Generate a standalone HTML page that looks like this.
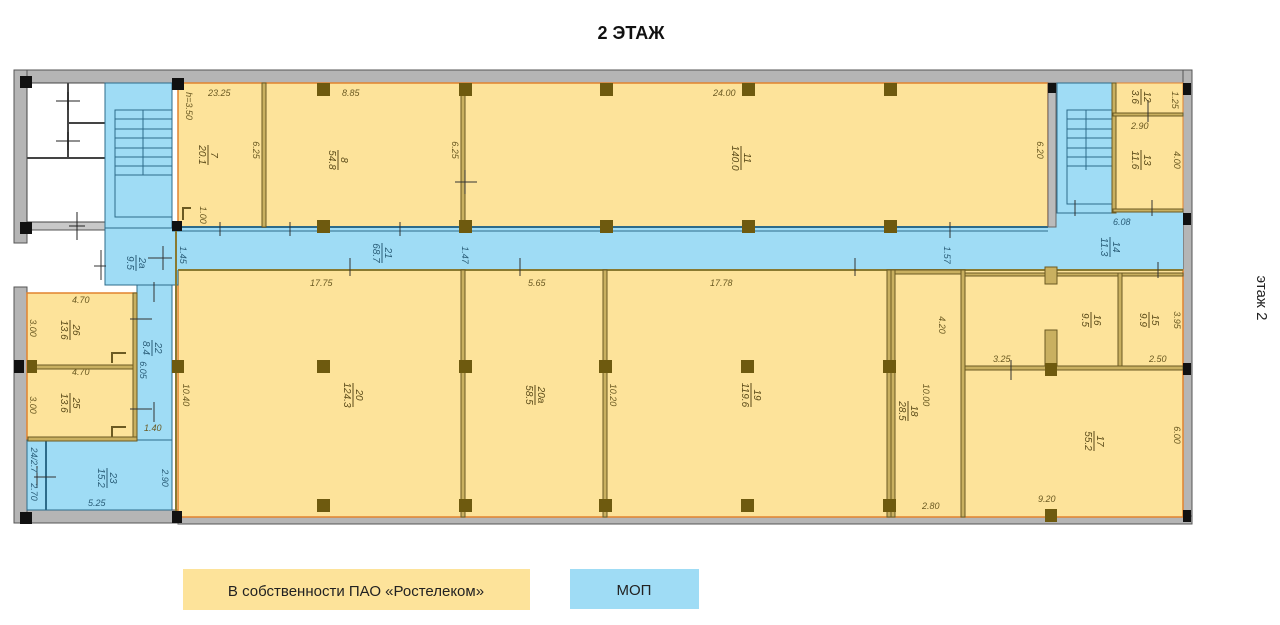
<!DOCTYPE html>
<html><head><meta charset="utf-8"><style>
html,body{margin:0;padding:0;background:#fff;width:1280px;height:625px;overflow:hidden}
svg{display:block}
text{font-family:"Liberation Sans",sans-serif}
.t{font-size:9px;fill:#6b5a22;font-style:italic}
.tb{font-size:9px;fill:#2a5d78;font-style:italic}
</style></head><body>
<svg width="1280" height="625" viewBox="0 0 1280 625" xmlns="http://www.w3.org/2000/svg">
<text x="631" y="39" text-anchor="middle" font-size="18" font-weight="bold" fill="#111">2 ЭТАЖ</text>
<text transform="translate(1257,298) rotate(90)" text-anchor="middle" font-size="15" fill="#222">этаж 2</text>

<rect x="14" y="70" width="1178" height="13" fill="#b5b5b5" stroke="#555" stroke-width="1"/>
<rect x="14" y="70" width="13" height="173" fill="#b5b5b5" stroke="#555"/>
<rect x="14" y="287" width="13" height="236" fill="#b5b5b5" stroke="#555"/>
<rect x="1183" y="70" width="9" height="454" fill="#b5b5b5" stroke="#555"/>
<rect x="27" y="510" width="151" height="13" fill="#b5b5b5" stroke="#555"/>
<rect x="178" y="516" width="1014" height="8" fill="#b5b5b5" stroke="#555"/>
<rect x="27" y="222" width="78" height="8" fill="#c8c8c8" stroke="#555"/>

<rect x="27" y="83" width="78" height="139" fill="#fff" stroke="#444"/>
<line x1="27" y1="158" x2="105" y2="158" stroke="#444" stroke-width="2"/>
<line x1="68" y1="83" x2="68" y2="158" stroke="#444" stroke-width="2"/>
<line x1="68" y1="123" x2="105" y2="123" stroke="#444" stroke-width="2"/>
<path d="M56 101h24M68 92v18M56 141h24M68 132v18M77 212v28M69 226h16" stroke="#222" fill="none"/>

<rect x="178" y="83" width="870" height="144" fill="#fde39a" stroke="#e2832e" stroke-width="1.5"/>
<rect x="178" y="270" width="1005" height="247" fill="#fde39a" stroke="#e2832e" stroke-width="1.5"/>
<rect x="1113" y="83" width="70" height="129" fill="#fde39a" stroke="#e2832e"/>
<rect x="27" y="293" width="110" height="147" fill="#fde39a" stroke="#e2832e" stroke-width="1.5"/>

<rect x="105" y="83" width="67" height="145" fill="#9fdcf5" stroke="#2d6b8a"/>
<rect x="105" y="228" width="73" height="57" fill="#9fdcf5" stroke="#2d6b8a"/>
<rect x="172" y="227" width="1011" height="43" fill="#9fdcf5"/>
<rect x="1048" y="212" width="135" height="58" fill="#9fdcf5"/>
<rect x="1057" y="83" width="55" height="130" fill="#9fdcf5" stroke="#2d6b8a"/>
<rect x="137" y="285" width="35" height="155" fill="#9fdcf5" stroke="#2d6b8a"/>
<rect x="27" y="440" width="145" height="70" fill="#9fdcf5" stroke="#2d6b8a"/>
<line x1="46" y1="440" x2="46" y2="510" stroke="#2d6b8a" stroke-width="2"/>
<line x1="172" y1="227" x2="1048" y2="227" stroke="#2d6b8a" stroke-width="2"/>
<line x1="172" y1="231" x2="1048" y2="231" stroke="#2d6b8a" stroke-width="1"/>
<line x1="178" y1="270" x2="1183" y2="270" stroke="#8a7a30" stroke-width="2"/>
<line x1="176" y1="227" x2="176" y2="517" stroke="#8a7a30" stroke-width="2"/>

<g stroke="#2d6b8a" fill="none">
<rect x="115" y="110" width="57" height="107"/>
<line x1="143" y1="110" x2="143" y2="175"/>
<path d="M115 119h57M115 129h57M115 138h57M115 148h57M115 157h57M115 166h57M115 175h57"/>
<rect x="1067" y="110" width="45" height="94"/>
<line x1="1086" y1="110" x2="1086" y2="170"/>
<path d="M1067 119h45M1067 129h45M1067 138h45M1067 148h45M1067 157h45M1067 166h45"/>
</g>

<g fill="#c9b060" stroke="#6b5a22" stroke-width="1">
<rect x="262" y="83" width="4" height="144"/>
<rect x="461" y="95" width="4" height="132"/>
<rect x="1048" y="83" width="8" height="144" fill="#bbb" stroke="#666"/>
<rect x="1112" y="83" width="4" height="130"/>
<rect x="1113" y="113" width="70" height="3"/>
<rect x="1113" y="209" width="70" height="3"/>
<rect x="461" y="270" width="4" height="247"/>
<rect x="603" y="270" width="4" height="247"/>
<rect x="887" y="270" width="4" height="247"/>
<rect x="891" y="270" width="74" height="4"/>
<rect x="891" y="270" width="4" height="247"/>
<rect x="961" y="270" width="4" height="247"/>
<rect x="965" y="273" width="218" height="3"/>
<rect x="1118" y="273" width="4" height="95"/>
<rect x="965" y="366" width="218" height="4"/>
<rect x="1045" y="330" width="12" height="36"/>
<rect x="1045" y="267" width="12" height="17"/>
<rect x="28" y="365" width="109" height="4"/>
<rect x="133" y="293" width="4" height="147"/>
<rect x="28" y="437" width="109" height="4"/>
</g>
<path d="M112 363v-10h14M112 437v-10h14" stroke="#6b5a22" stroke-width="2" fill="none"/>
<path d="M183 220v-12h8" stroke="#6b5a22" stroke-width="2" fill="none"/>

<g fill="#6e5a0f">
<rect x="317" y="83" width="13" height="13"/><rect x="459" y="83" width="13" height="13"/><rect x="600" y="83" width="13" height="13"/><rect x="742" y="83" width="13" height="13"/><rect x="884" y="83" width="13" height="13"/>
<rect x="317" y="220" width="13" height="13"/><rect x="459" y="220" width="13" height="13"/><rect x="600" y="220" width="13" height="13"/><rect x="742" y="220" width="13" height="13"/><rect x="884" y="220" width="13" height="13"/>
<rect x="317" y="360" width="13" height="13"/><rect x="459" y="360" width="13" height="13"/><rect x="599" y="360" width="13" height="13"/><rect x="741" y="360" width="13" height="13"/><rect x="883" y="360" width="13" height="13"/>
<rect x="317" y="499" width="13" height="13"/><rect x="459" y="499" width="13" height="13"/><rect x="599" y="499" width="13" height="13"/><rect x="741" y="499" width="13" height="13"/><rect x="883" y="499" width="13" height="13"/>
<rect x="1045" y="363" width="12" height="13"/><rect x="1045" y="509" width="12" height="13"/>
<rect x="172" y="360" width="12" height="13"/><rect x="27" y="360" width="10" height="13"/>
</g>
<g fill="#111">
<rect x="20" y="76" width="12" height="12"/><rect x="172" y="78" width="12" height="12"/>
<rect x="20" y="222" width="12" height="12"/><rect x="172" y="221" width="10" height="10"/>
<rect x="20" y="512" width="12" height="12"/><rect x="172" y="511" width="10" height="12"/>
<rect x="1048" y="83" width="8" height="10"/><rect x="1183" y="83" width="8" height="12"/>
<rect x="1183" y="213" width="8" height="12"/><rect x="1183" y="363" width="8" height="12"/><rect x="1183" y="510" width="8" height="12"/>
<rect x="14" y="360" width="10" height="13"/>
</g>

<path d="M220 222v14M290 222v14M400 222v14M465 170v24M455 182h22M1075 200v16M1152 200v16M1148 100v22M350 258v18M520 258v18M855 258v18M950 222v16M1158 262v16M1011 360v20M154 282v20M154 402v20M130 319h22M130 409h22M37 466v22M34 477h22M101 250v30M94 266h12M163 246v24M172 258h-24" stroke="#333" fill="none"/>

<g class="t">
<text x="208" y="96">23.25</text><text x="342" y="96">8.85</text><text x="713" y="96">24.00</text>
<text x="310" y="286">17.75</text><text x="528" y="286">5.65</text><text x="710" y="286">17.78</text>
<text x="72" y="303">4.70</text><text x="72" y="375">4.70</text>
<text x="1149" y="362">2.50</text><text x="922" y="509">2.80</text><text x="1038" y="502">9.20</text>
<text x="1131" y="129">2.90</text><text x="993" y="362">3.25</text>
<text x="144" y="431">1.40</text><text x="88" y="506" class="tb">5.25</text><text x="1113" y="225" class="tb">6.08</text>
</g>
<g class="t" text-anchor="middle">
<text transform="translate(186,106) rotate(90)">h=3.50</text>
<text transform="translate(253,150) rotate(90)">6.25</text>
<text transform="translate(452,150) rotate(90)">6.25</text>
<text transform="translate(1037,150) rotate(90)">6.20</text>
<text transform="translate(1174,160) rotate(90)">4.00</text>
<text transform="translate(1174,320) rotate(90)">3.95</text>
<text transform="translate(1174,435) rotate(90)">6.00</text>
<text transform="translate(939,325) rotate(90)">4.20</text>
<text transform="translate(923,395) rotate(90)">10.00</text>
<text transform="translate(610,395) rotate(90)">10.20</text>
<text transform="translate(183,395) rotate(90)">10.40</text>
<text transform="translate(30,328) rotate(90)">3.00</text>
<text transform="translate(30,405) rotate(90)">3.00</text>
<text transform="translate(200,215) rotate(90)">1.00</text>
<text transform="translate(1172,100) rotate(90)">1.25</text>
</g>
<g class="tb" text-anchor="middle">
<text transform="translate(180,255) rotate(90)">1.45</text>
<text transform="translate(462,255) rotate(90)">1.47</text>
<text transform="translate(944,255) rotate(90)">1.57</text>
<text transform="translate(140,370) rotate(90)">6.05</text>
<text transform="translate(162,478) rotate(90)">2.90</text>
<text transform="translate(31,460) rotate(90)">24/2.7</text>
<text transform="translate(31,492) rotate(90)">2.70</text>
</g>

<g font-size="10" fill="#5a4a18" font-style="italic" text-anchor="middle">
<g transform="translate(208,155) rotate(90)"><text y="-3">7</text><text y="9">20.1</text><line x1="-10" y1="0" x2="10" y2="0" stroke="#5a4a18"/></g>
<g transform="translate(338,160) rotate(90)"><text y="-3">8</text><text y="9">54.8</text><line x1="-10" y1="0" x2="10" y2="0" stroke="#5a4a18"/></g>
<g transform="translate(741,158) rotate(90)"><text y="-3">11</text><text y="9">140.0</text><line x1="-12" y1="0" x2="12" y2="0" stroke="#5a4a18"/></g>
<g transform="translate(1141,160) rotate(90)"><text y="-3">13</text><text y="9">11.6</text><line x1="-10" y1="0" x2="10" y2="0" stroke="#5a4a18"/></g>
<g transform="translate(1141,97) rotate(90)"><text y="-3">12</text><text y="9">3.6</text><line x1="-8" y1="0" x2="8" y2="0" stroke="#5a4a18"/></g>
<g transform="translate(353,395) rotate(90)"><text y="-3">20</text><text y="9">124.3</text><line x1="-12" y1="0" x2="12" y2="0" stroke="#5a4a18"/></g>
<g transform="translate(535,395) rotate(90)"><text y="-3">20a</text><text y="9">58.5</text><line x1="-10" y1="0" x2="10" y2="0" stroke="#5a4a18"/></g>
<g transform="translate(751,395) rotate(90)"><text y="-3">19</text><text y="9">119.6</text><line x1="-12" y1="0" x2="12" y2="0" stroke="#5a4a18"/></g>
<g transform="translate(908,411) rotate(90)"><text y="-3">18</text><text y="9">28.5</text><line x1="-10" y1="0" x2="10" y2="0" stroke="#5a4a18"/></g>
<g transform="translate(1091,320) rotate(90)"><text y="-3">16</text><text y="9">9.5</text><line x1="-8" y1="0" x2="8" y2="0" stroke="#5a4a18"/></g>
<g transform="translate(1149,320) rotate(90)"><text y="-3">15</text><text y="9">9.9</text><line x1="-8" y1="0" x2="8" y2="0" stroke="#5a4a18"/></g>
<g transform="translate(1094,441) rotate(90)"><text y="-3">17</text><text y="9">55.2</text><line x1="-10" y1="0" x2="10" y2="0" stroke="#5a4a18"/></g>
<g transform="translate(70,330) rotate(90)"><text y="-3">26</text><text y="9">13.6</text><line x1="-10" y1="0" x2="10" y2="0" stroke="#5a4a18"/></g>
<g transform="translate(70,403) rotate(90)"><text y="-3">25</text><text y="9">13.6</text><line x1="-10" y1="0" x2="10" y2="0" stroke="#5a4a18"/></g>
</g>
<g font-size="10" fill="#2a5d78" font-style="italic" text-anchor="middle">
<g transform="translate(382,253) rotate(90)"><text y="-3">21</text><text y="9">68.7</text><line x1="-10" y1="0" x2="10" y2="0" stroke="#2a5d78"/></g>
<g transform="translate(1110,247) rotate(90)"><text y="-3">14</text><text y="9">11.3</text><line x1="-10" y1="0" x2="10" y2="0" stroke="#2a5d78"/></g>
<g transform="translate(136,263) rotate(90)"><text y="-3">2a</text><text y="9">9.5</text><line x1="-8" y1="0" x2="8" y2="0" stroke="#2a5d78"/></g>
<g transform="translate(152,348) rotate(90)"><text y="-3">22</text><text y="9">8.4</text><line x1="-8" y1="0" x2="8" y2="0" stroke="#2a5d78"/></g>
<g transform="translate(107,478) rotate(90)"><text y="-3">23</text><text y="9">15.2</text><line x1="-10" y1="0" x2="10" y2="0" stroke="#2a5d78"/></g>
</g>

<rect x="183" y="569" width="347" height="41" fill="#fde39a"/>
<text x="356" y="596" text-anchor="middle" font-size="15" fill="#222">В собственности ПАО «Ростелеком»</text>
<rect x="570" y="569" width="129" height="40" fill="#9fdcf5"/>
<text x="634" y="595" text-anchor="middle" font-size="15" fill="#222">МОП</text>
</svg>
</body></html>
